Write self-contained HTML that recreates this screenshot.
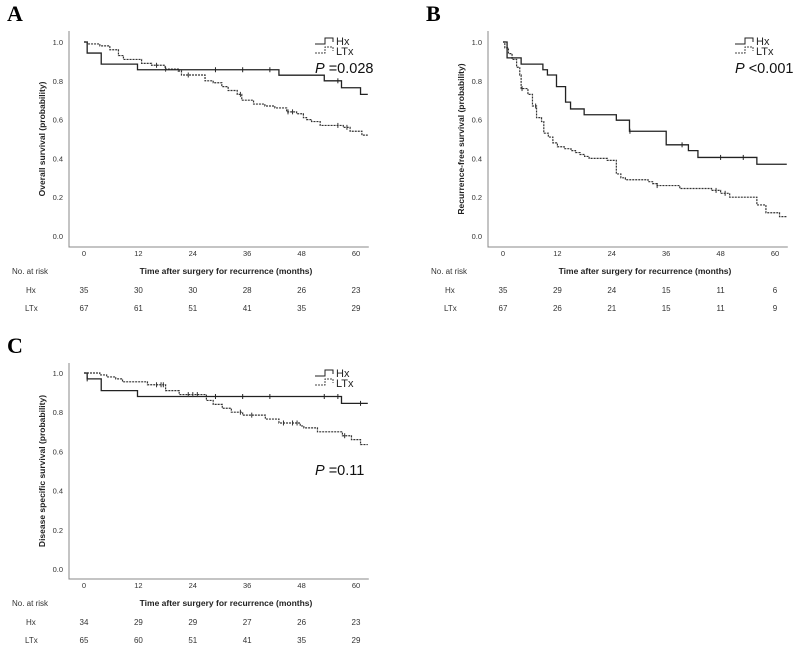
<!DOCTYPE html>
<html><head><meta charset="utf-8">
<style>
html,body{margin:0;padding:0;background:#fff;}
svg{display:block;font-family:"Liberation Sans",sans-serif;}
</style></head>
<body>
<svg id="fig" width="797" height="648" viewBox="0 0 797 648"></svg>
<script>
// ---- data ----
const xTicks = [0, 12, 24, 36, 48, 60];
const yTicks = [0.0, 0.2, 0.4, 0.6, 0.8, 1.0];
// Panel A (overall survival)
const aHxT = [0.7, 3.8, 11.8, 43, 53, 56.8, 61];
const aHxS = [0.943, 0.886, 0.857, 0.829, 0.80, 0.764, 0.73];
const aHxC = [29, 35, 41, 56];
const aLtT = [0.7, 3.5, 5.7, 7.6, 8.7, 12.7, 14.9, 17.9, 20.8, 21.5, 26.7, 28.5, 30.4, 31.8, 33.8, 34.8, 37.4, 39.9, 42.1, 44.7, 46.9, 48.4, 49.1, 50.2, 52.1, 57.2, 58.7, 61.3];
const aLtS = [0.99, 0.98, 0.96, 0.93, 0.91, 0.89, 0.88, 0.86, 0.85, 0.83, 0.80, 0.79, 0.77, 0.75, 0.73, 0.70, 0.68, 0.67, 0.66, 0.64, 0.63, 0.61, 0.60, 0.59, 0.57, 0.56, 0.54, 0.52];
const aLtC = [16, 18, 23, 34.5, 45, 46, 56, 58];
const aRiskHx = [35, 30, 30, 28, 26, 23];
const aRiskLt = [67, 61, 51, 41, 35, 29];
// Panel B (recurrence-free survival)
const bHxT = [0.9, 4, 8.8, 9.8, 11.8, 13.8, 14.9, 17.9, 25, 27.9, 36, 40.9, 43, 56];
const bHxS = [0.918, 0.886, 0.857, 0.83, 0.77, 0.69, 0.655, 0.625, 0.597, 0.54, 0.47, 0.44, 0.405, 0.37];
const bHxC = [28, 39.5, 48, 53];
const bLtT = [0.4, 1.2, 2, 3, 3.7, 4, 5.5, 6.5, 7.4, 8.5, 9, 10, 11, 12, 13.5, 15, 16, 17, 18, 19, 23, 25, 26, 27, 32, 33, 34, 39, 46, 48, 50, 56, 58, 61];
const bLtS = [0.97, 0.94, 0.91, 0.87, 0.83, 0.76, 0.73, 0.67, 0.61, 0.59, 0.53, 0.51, 0.48, 0.46, 0.45, 0.44, 0.43, 0.42, 0.41, 0.40, 0.39, 0.32, 0.30, 0.29, 0.28, 0.27, 0.26, 0.245, 0.235, 0.22, 0.20, 0.16, 0.12, 0.10];
const bLtC = [4.2, 7.2, 34, 47, 49];
const bRiskHx = [35, 29, 24, 15, 11, 6];
const bRiskLt = [67, 26, 21, 15, 11, 9];
// Panel C (disease specific survival)
const cHxT = [0.7, 3.8, 11.8, 56.8];
const cHxS = [0.97, 0.91, 0.88, 0.845];
const cHxC = [0.7, 29, 35, 41, 53, 56, 61];
const cLtT = [3.5, 5, 7, 8.5, 14, 18, 21, 27, 28.5, 30.5, 32.5, 35, 40, 43, 47.7, 48.5, 51.5, 57, 59, 61];
const cLtS = [0.99, 0.98, 0.97, 0.955, 0.94, 0.91, 0.89, 0.86, 0.84, 0.82, 0.80, 0.785, 0.765, 0.745, 0.73, 0.72, 0.70, 0.68, 0.66, 0.635];
const cLtC = [16, 17, 17.5, 23, 24, 25, 34.5, 37, 44, 46, 47, 57.5];
const cRiskHx = [34, 29, 29, 27, 26, 23];
const cRiskLt = [65, 60, 51, 41, 35, 29];

const NS = "http://www.w3.org/2000/svg";
const svg = document.getElementById('fig');
function mk(tag, attrs, parent, text) {
  const e = document.createElementNS(NS, tag);
  for (const k in attrs) e.setAttribute(k, attrs[k]);
  if (text !== undefined) e.textContent = text;
  (parent || svg).appendChild(e);
  return e;
}
function stepPts(T, S, xs, ys, end) {
  let d = "M" + xs(0) + "," + ys(1);
  for (let i = 0; i < T.length; i++) {
    d += " H" + xs(T[i]) + " V" + ys(S[i]);
  }
  d += " H" + xs(end);
  return d;
}
function survAt(T, S, t) {
  let v = 1;
  for (let i = 0; i < T.length; i++) if (T[i] <= t) v = S[i];
  return v;
}
function panel(p) {
  const g = mk('g', {}, svg);
  
  
  const xs = t => p.x0 + (t / 60) * (p.x60 - p.x0);
  const ys = v => p.y0 - v * (p.y0 - p.y1);
  const end = 62.6;
  const L = mk('text', {x: p.lx, y: p.ly, 'font-family': '"Liberation Serif",serif', 'font-weight': 'bold', 'font-size': 22}, g, p.letter);
  
  
  const ax = mk('path', {d: `M${p.ax},${p.top} V${p.bot} H${xs(end)+1}`, stroke: '#888', fill: 'none', 'stroke-width': 1}, g);
  
  
  for (const v of yTicks) {
    const t = mk('text', {x: p.ax - 6, y: ys(v) + 3, 'font-size': 7.5, fill: '#333', 'text-anchor': 'end'}, g, v.toFixed(1));
    
    
  }
  xTicks.forEach((m, i) => {
    const t = mk('text', {x: xs(m), y: p.bot + 9, 'font-size': 7.5, fill: '#333', 'text-anchor': 'middle'}, g, String(m));
    
    
    const r1 = mk('text', {x: xs(m), y: p.bot + 46, 'font-size': 8, fill: '#333', 'text-anchor': 'middle'}, g, String(p.rHx[i]));
    
    
    const r2 = mk('text', {x: xs(m), y: p.bot + 64, 'font-size': 8, fill: '#333', 'text-anchor': 'middle'}, g, String(p.rLt[i]));
    
    
  });
  const xt = mk('text', {x: (xs(0) + xs(60)) / 2 + 6, y: p.bot + 27, 'font-size': 8.5, 'font-weight': 'bold', fill: '#222', 'text-anchor': 'middle'}, g, 'Time after surgery for recurrence (months)');
  
  
  const nr = mk('text', {x: p.ax - 57, y: p.bot + 27, 'font-size': 8, fill: '#333'}, g, 'No. at risk');
  
  
  const h = mk('text', {x: p.ax - 43, y: p.bot + 46, 'font-size': 8, fill: '#333'}, g, 'Hx');
  
  
  const l = mk('text', {x: p.ax - 44, y: p.bot + 64, 'font-size': 8, fill: '#333'}, g, 'LTx');
  
  
  const yc = (ys(0) + ys(1)) / 2;
  const yt = mk('text', {x: p.ax - 24, y: yc, 'font-size': 8.5, 'font-weight': 'bold', fill: '#222', 'text-anchor': 'middle', transform: `rotate(-90 ${p.ax - 24} ${yc})`}, g, p.ytitle);
  
  
  const lt = mk('path', {d: stepPts(p.ltT, p.ltS, xs, ys, end), stroke: '#333', fill: 'none', 'stroke-width': 1.2, 'stroke-dasharray': '2,1'}, g);
  
  
  const hx = mk('path', {d: stepPts(p.hxT, p.hxS, xs, ys, end), stroke: '#222', fill: 'none', 'stroke-width': 1.3}, g);
  
  
  for (const c of p.hxC) {
    const y = ys(survAt(p.hxT, p.hxS, c));
    const m = mk('line', {x1: xs(c), x2: xs(c), y1: y - 2.5, y2: y + 2.5, stroke: '#222', 'stroke-width': 1}, g);
    
    
  }
  for (const c of p.ltC) {
    const y = ys(survAt(p.ltT, p.ltS, c));
    const m = mk('line', {x1: xs(c), x2: xs(c), y1: y - 2.5, y2: y + 2.5, stroke: '#333', 'stroke-width': 1}, g);
    
    
  }
  const lg = mk('g', {}, g);
  
  
  const lx = p.legx, ly = p.legy;
  mk('path', {d: `M${lx},${ly + 3} H${lx + 10} V${ly - 3} H${lx + 18} V${ly + 1}`, stroke: '#222', fill: 'none', 'stroke-width': 1}, lg);
  mk('text', {x: lx + 21, y: ly + 4, 'font-size': 11, fill: '#222'}, lg, 'Hx');
  mk('path', {d: `M${lx},${ly + 12} H${lx + 10} V${ly + 6} H${lx + 18} V${ly + 10}`, stroke: '#444', fill: 'none', 'stroke-width': 1, 'stroke-dasharray': '2,1'}, lg);
  mk('text', {x: lx + 21, y: ly + 14, 'font-size': 11, fill: '#222'}, lg, 'LTx');
  const pt = mk('text', {x: p.px, y: p.py, 'font-size': 14.5, fill: '#111'}, g);
  mk('tspan', {'font-style': 'italic'}, pt, 'P');
  mk('tspan', {}, pt, ' ' + p.ptext);
  
  
}
panel({name: 'panel-a-overall-survival', letter: 'A', lx: 7, ly: 21, ax: 69, top: 31, bot: 247, x0: 84, x60: 356, y0: 236, y1: 42,
  ytitle: 'Overall survival (probability)', hxT: aHxT, hxS: aHxS, hxC: aHxC, ltT: aLtT, ltS: aLtS, ltC: aLtC,
  rHx: aRiskHx, rLt: aRiskLt, legx: 315, legy: 41, px: 315, py: 73, ptext: '=0.028'});
panel({name: 'panel-b-recurrence-free', letter: 'B', lx: 426, ly: 21, ax: 488, top: 31, bot: 247, x0: 503, x60: 775, y0: 236, y1: 42,
  ytitle: 'Recurrence-free survival (probability)', hxT: bHxT, hxS: bHxS, hxC: bHxC, ltT: bLtT, ltS: bLtS, ltC: bLtC,
  rHx: bRiskHx, rLt: bRiskLt, legx: 735, legy: 41, px: 735, py: 73, ptext: '<0.001'});
panel({name: 'panel-c-disease-specific', letter: 'C', lx: 7, ly: 353, ax: 69, top: 363, bot: 579, x0: 84, x60: 356, y0: 569, y1: 373,
  ytitle: 'Disease specific survival (probability)', hxT: cHxT, hxS: cHxS, hxC: cHxC, ltT: cLtT, ltS: cLtS, ltC: cLtC,
  rHx: cRiskHx, rLt: cRiskLt, legx: 315, legy: 373, px: 315, py: 475, ptext: '=0.11'});
</script>
</body></html>
